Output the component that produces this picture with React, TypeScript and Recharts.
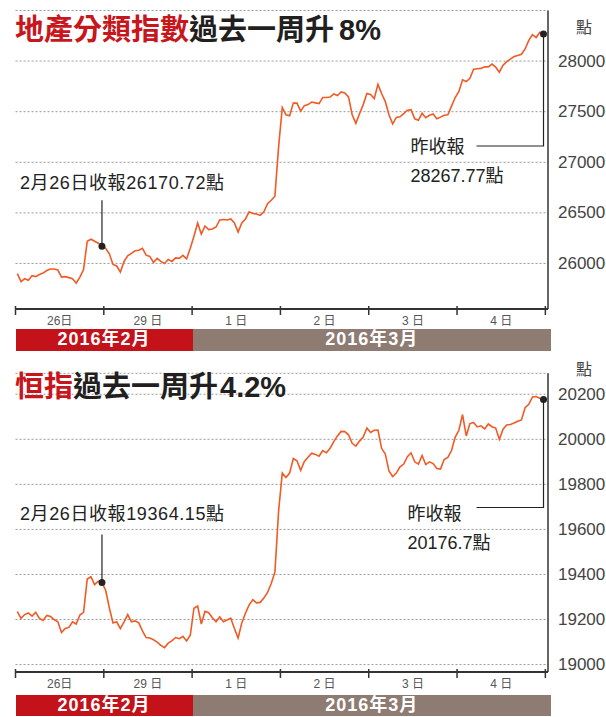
import { LineChart, Line, XAxis, YAxis, CartesianGrid, ReferenceDot } from 'recharts';

const FONT = "'Liberation Sans', 'Noto Sans CJK TC', sans-serif";
const LINE_COLOR = '#f15a24';

const dayLabels = ['26日', '29 日', '1 日', '2 日', '3 日', '4 日'];
const monthLabels = ['2016年2月', '2016年3月'];

// 地產分類指數, one array per trading day
const propFeb26 = [25900, 25820, 25850, 25835, 25880, 25870, 25890, 25905, 25930, 25945, 25945, 25935, 25865, 25870, 25860, 25850, 25805, 25865, 25940, 26220, 26240, 26220, 26200, 26170.72];
const propFeb29 = [26150, 26095, 25990, 25975, 25915, 26020, 26075, 26100, 26125, 26130, 26150, 26082, 26070, 26010, 26050, 26020, 26000, 26040, 26020, 26055, 26050, 26080, 26045, 26150];
const propMar1 = [26270, 26400, 26290, 26370, 26335, 26340, 26360, 26430, 26435, 26430, 26440, 26400, 26310, 26400, 26440, 26510, 26495, 26488, 26475, 26510, 26590, 26625, 26665, 27150];
const propMar2 = [27540, 27470, 27460, 27585, 27585, 27505, 27560, 27570, 27595, 27587, 27580, 27640, 27640, 27645, 27675, 27660, 27695, 27686, 27646, 27470, 27385, 27480, 27570, 27680];
const propMar3 = [27670, 27630, 27770, 27680, 27600, 27470, 27380, 27444, 27450, 27480, 27515, 27520, 27430, 27415, 27484, 27440, 27465, 27477, 27430, 27446, 27465, 27470, 27555, 27640];
const propMar4 = [27700, 27815, 27798, 27830, 27920, 27925, 27928, 27943, 27943, 27970, 27940, 27890, 27960, 27995, 28020, 28045, 28055, 28068, 28120, 28205, 28262, 28233, 28285, 28267.77];
const propTicks = [26000, 26500, 27000, 27500, 28000, 28500];

// 恒指, one array per trading day
const hsiFeb26 = [19235, 19205, 19222, 19229, 19215, 19232, 19205, 19196, 19218, 19213, 19200, 19190, 19142, 19160, 19165, 19190, 19180, 19220, 19232, 19380, 19390, 19355, 19370, 19364.15];
const hsiFeb29 = [19330, 19252, 19185, 19190, 19160, 19190, 19222, 19190, 19194, 19185, 19150, 19120, 19118, 19110, 19100, 19085, 19075, 19095, 19105, 19120, 19115, 19125, 19105, 19130];
const hsiMar1 = [19250, 19260, 19180, 19236, 19230, 19208, 19190, 19212, 19190, 19198, 19206, 19160, 19118, 19185, 19228, 19265, 19288, 19274, 19276, 19295, 19320, 19360, 19410, 19680];
const hsiMar2 = [19850, 19830, 19850, 19915, 19905, 19862, 19902, 19920, 19938, 19933, 19925, 19950, 19940, 19960, 19990, 20015, 20035, 20034, 20020, 19982, 19970, 19992, 20010, 20050];
const hsiMar3 = [20030, 20040, 20041, 19960, 19935, 19860, 19835, 19850, 19878, 19890, 19923, 19940, 19900, 19890, 19928, 19888, 19900, 19892, 19870, 19868, 19910, 19920, 19950, 20010];
const hsiMar4 = [20040, 20110, 20015, 20070, 20075, 20055, 20060, 20046, 20068, 20056, 20050, 20000, 20045, 20064, 20066, 20072, 20080, 20086, 20140, 20155, 20188, 20190, 20182, 20176.7];
const hsiTicks = [19000, 19200, 19400, 19600, 19800, 20000, 20200];

const xTicks = [0, 0.5, 1, 1.5, 2, 2.5, 3, 3.5, 4, 4.5, 5, 5.5, 6];

function buildSeries(days: number[][]) {
  return days.flatMap((vals, d) => vals.map((v, i) => ({ t: d + (i + 0.5) / vals.length, v })));
}

const renderXTick = (props: any) => {
  const { x, y, payload } = props;
  const v = payload.value;
  if (Number.isInteger(v)) {
    return <line x1={x} x2={x} y1={y - 3} y2={y + 6} stroke="#333" strokeWidth={1.5} />;
  }
  return (
    <text x={x} y={y + 12} textAnchor="middle" dominantBaseline="central" fontSize={12} fill="#555" fontFamily={FONT}>
      {dayLabels[Math.floor(v)]}
    </text>
  );
};

type PanelProps = {
  top: number;
  height: number;
  marginTop: number;
  domain: [number, number];
  days: number[][];
  ticks: number[];
  hideTick?: number;
  titleRed: string;
  titleRest: string;
  titlePct: string;
  pctGap: number;
  titleY: number;
  unitY: number;
  barTop: number;
  febClose: number;
  lastClose: number;
  febNote: { len: number; dx: number; dy: number };
  lastNote: { lineDy: number; dx: number; dy1: number; dy2: number };
};

function IndexPanel(p: PanelProps) {
  const data = buildSeries(p.days);
  const first = p.days[0];
  const last = p.days[p.days.length - 1];
  const febX = (first.length - 0.5) / first.length;
  const lastX = p.days.length - 1 + (last.length - 0.5) / last.length;

  const renderYTick = (props: any) => {
    const { x, y, payload } = props;
    if (payload.value === p.hideTick) return <g />;
    return (
      <text x={x + 10} y={y} dominantBaseline="central" fontSize={17} fill="#444" fontFamily={FONT}>
        {payload.value}
      </text>
    );
  };

  const febShape = (s: any) => (
    <g>
      <line x1={s.cx} x2={s.cx} y1={s.cy} y2={s.cy - p.febNote.len} stroke="#222" strokeWidth={1.2} />
      <circle cx={s.cx} cy={s.cy} r={3.5} fill="#222" />
      <text x={s.cx + p.febNote.dx} y={s.cy + p.febNote.dy} dominantBaseline="central" fontSize={18} fill="#222" fontFamily={FONT} letterSpacing={0.6}>
        {`2月26日收報${p.febClose}點`}
      </text>
    </g>
  );

  const lastShape = (s: any) => (
    <g>
      <polyline
        points={`${s.cx},${s.cy} ${s.cx},${s.cy + p.lastNote.lineDy} ${s.cx - 67},${s.cy + p.lastNote.lineDy}`}
        fill="none"
        stroke="#222"
        strokeWidth={1.2}
      />
      <circle cx={s.cx} cy={s.cy} r={3.5} fill="#222" />
      <text x={s.cx + p.lastNote.dx} y={s.cy + p.lastNote.dy1} dominantBaseline="central" fontSize={18} fill="#222" fontFamily={FONT}>
        昨收報
      </text>
      <text x={s.cx + p.lastNote.dx} y={s.cy + p.lastNote.dy2} dominantBaseline="central" fontSize={18} fill="#222" fontFamily={FONT}>
        {`${p.lastClose}點`}
      </text>
    </g>
  );

  return (
    <div style={{ position: 'absolute', left: 0, top: p.top, width: 606, height: p.height + 30 }}>
      <LineChart
        width={606}
        height={p.height}
        data={data}
        margin={{ top: p.marginTop, right: 0, bottom: 0, left: 15.5 }}
        style={{ position: 'absolute', left: 0, top: 0 }}
      >
        <CartesianGrid vertical={false} stroke="#999" strokeDasharray="2 2" />
        <XAxis
          type="number"
          dataKey="t"
          domain={[0, 6.03]}
          ticks={xTicks}
          interval={0}
          allowDataOverflow
          tick={renderXTick}
          tickLine={false}
          tickSize={0}
          tickMargin={0}
          height={21}
          axisLine={{ stroke: '#333', strokeWidth: 2 }}
        />
        <YAxis
          orientation="right"
          width={58}
          domain={p.domain}
          allowDataOverflow
          ticks={p.ticks}
          interval={0}
          tick={renderYTick}
          tickLine={false}
          tickSize={0}
          tickMargin={0}
          axisLine={{ stroke: '#333', strokeWidth: 1.5 }}
        />
        <Line type="linear" dataKey="v" stroke={LINE_COLOR} strokeWidth={1.6} dot={false} isAnimationActive={false} />
        <ReferenceDot x={febX} y={p.febClose} r={3.5} ifOverflow="visible" shape={febShape} />
        <ReferenceDot x={lastX} y={p.lastClose} r={3.5} ifOverflow="visible" shape={lastShape} />
      </LineChart>

      <div
        style={{
          position: 'absolute',
          left: 15,
          top: p.titleY - 16,
          height: 32,
          lineHeight: '32px',
          fontSize: 29,
          fontWeight: 700,
          fontFamily: FONT,
          whiteSpace: 'nowrap',
          color: '#231f20',
        }}
      >
        <span style={{ color: '#c8161d' }}>{p.titleRed}</span>
        {p.titleRest}
        <span style={{ marginLeft: p.pctGap }}>{p.titlePct}</span>
      </div>

      <div
        style={{
          position: 'absolute',
          left: 576,
          top: p.unitY - 9,
          fontSize: 16,
          lineHeight: '18px',
          color: '#444',
          fontFamily: FONT,
        }}
      >
        點
      </div>

      <div style={{ position: 'absolute', left: 15.5, top: p.barTop, height: 21.4, display: 'flex', fontFamily: FONT }}>
        <div style={{ width: 177, background: '#c4121a', color: '#fff', fontWeight: 700, fontSize: 18, textAlign: 'center', lineHeight: '21.4px', letterSpacing: 1 }}>
          {monthLabels[0]}
        </div>
        <div style={{ width: 358.5, background: '#8e7c73', color: '#fff', fontWeight: 700, fontSize: 18, textAlign: 'center', lineHeight: '21.4px', letterSpacing: 1 }}>
          {monthLabels[1]}
        </div>
      </div>
    </div>
  );
}

export default function App() {
  return (
    <div style={{ position: 'absolute', left: 0, top: 0, width: 606, height: 717, background: '#fff', overflow: 'hidden' }}>
      <IndexPanel
        top={0}
        height={330}
        marginTop={10.5}
        domain={[25550, 28500]}
        days={[propFeb26, propFeb29, propMar1, propMar2, propMar3, propMar4]}
        ticks={propTicks}
        hideTick={28500}
        titleRed="地產分類指數"
        titleRest="過去一周升"
        titlePct="8%"
        pctGap={5}
        titleY={30}
        unitY={28}
        barTop={329.3}
        febClose={26170.72}
        lastClose={28267.77}
        febNote={{ len: 46, dx: -82, dy: -63 }}
        lastNote={{ lineDy: 112, dx: -133, dy1: 113, dy2: 142 }}
      />
      <IndexPanel
        top={360}
        height={333}
        marginTop={13.3}
        domain={[18967, 20293]}
        days={[hsiFeb26, hsiFeb29, hsiMar1, hsiMar2, hsiMar3, hsiMar4]}
        ticks={hsiTicks}
        titleRed="恒指"
        titleRest="過去一周升"
        titlePct="4.2%"
        pctGap={2}
        titleY={27}
        unitY={10}
        barTop={335}
        febClose={19364.15}
        lastClose={20176.7}
        febNote={{ len: 48, dx: -82, dy: -69 }}
        lastNote={{ lineDy: 108, dx: -136, dy1: 115, dy2: 144 }}
      />
    </div>
  );
}
